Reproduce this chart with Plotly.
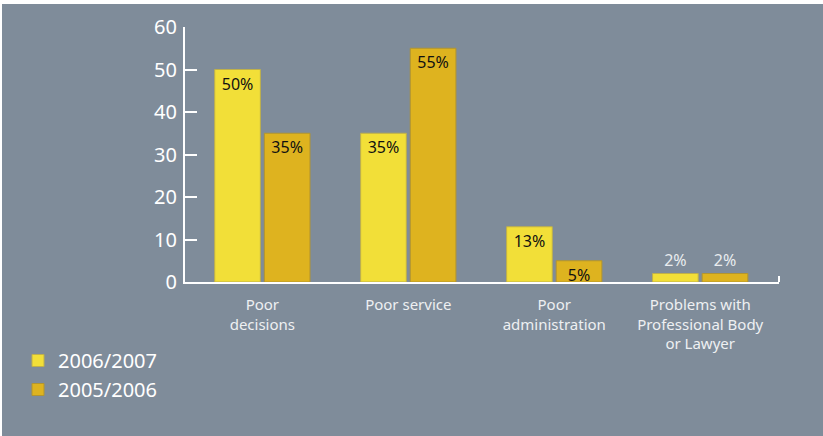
import plotly.graph_objects as go

# Complaint categories and the share of complaints (%) for each year
categories = [
    "Poor<br>decisions",
    "Poor service",
    "Poor<br>administration",
    "Problems with<br>Professional Body<br>or Lawyer",
]
share_2006_07 = [50, 35, 13, 2]
share_2005_06 = [35, 55, 5, 2]
y_ticks = [0, 10, 20, 30, 40, 50, 60]

BG = "#7f8c9a"
YELLOW = "#f2df38"
GOLD = "#deb31f"
FONT = "Noto Sans"

W, H = 823, 436
ML, MR, MT, MB = 185, 44, 27, 154
plot_w = W - ML - MR
plot_h = H - MT - MB


def px_x(p):
    return (p - ML) / plot_w


def px_y(p):
    return (H - MB - p) / plot_h


def label_style(values):
    pos = ["inside" if v >= 5 else "outside" for v in values]
    col = ["#111111" if v >= 5 else "#e9ecef" for v in values]
    return pos, col


fig = go.Figure()
for name, vals, color, edge in [
    ("2006/2007", share_2006_07, YELLOW, "#bfb04a"),
    ("2005/2006", share_2005_06, GOLD, "#b3952e"),
]:
    pos, col = label_style(vals)
    fig.add_trace(go.Bar(
        name=name,
        x=categories,
        y=vals,
        text=[f"{v}%" for v in vals],
        textposition=pos,
        insidetextanchor="end",
        textfont=dict(color=col, size=16, family=FONT),
        constraintext="none",
        cliponaxis=False,
        marker=dict(color=color, line=dict(color=edge, width=1)),
    ))

fig.update_layout(
    width=W,
    height=H,
    margin=dict(l=ML, r=MR, t=MT, b=MB, pad=0),
    paper_bgcolor="white",
    plot_bgcolor=BG,
    barmode="group",
    bargap=0.32,
    bargroupgap=0.08,
    font=dict(family=FONT, color="white"),
    legend=dict(
        x=px_x(18), y=px_y(341), xanchor="left", yanchor="top",
        font=dict(size=20, color="white", family=FONT),
        bgcolor="rgba(0,0,0,0)",
    ),
    xaxis=dict(
        range=[-0.53, 3.54],
        showline=True, linecolor="white", linewidth=2,
        showgrid=False, ticks="",
        tickfont=dict(size=15, color="#eef0f2", family=FONT),
        ticklabelstandoff=8,
        fixedrange=True,
    ),
    yaxis=dict(
        range=[0, 60],
        tickvals=y_ticks,
        showline=True, linecolor="white", linewidth=2,
        showgrid=False, zeroline=False,
        ticks="inside", ticklen=12, tickwidth=2, tickcolor="white",
        tickfont=dict(size=20, color="white", family=FONT),
        ticklabelstandoff=2,
        fixedrange=True,
    ),
    shapes=[
        # slate panel behind the whole chart, leaving a thin white edge top/left
        dict(type="rect", xref="paper", yref="paper", layer="below",
             x0=px_x(2), x1=px_x(W), y0=px_y(H), y1=px_y(4),
             fillcolor=BG, line=dict(width=0)),
        # short end tick on the category axis
        dict(type="line", xref="paper", yref="paper",
             x0=1, x1=1, y0=0, y1=6 / plot_h,
             line=dict(color="white", width=2)),
    ],
)

fig.write_html("out.html")
